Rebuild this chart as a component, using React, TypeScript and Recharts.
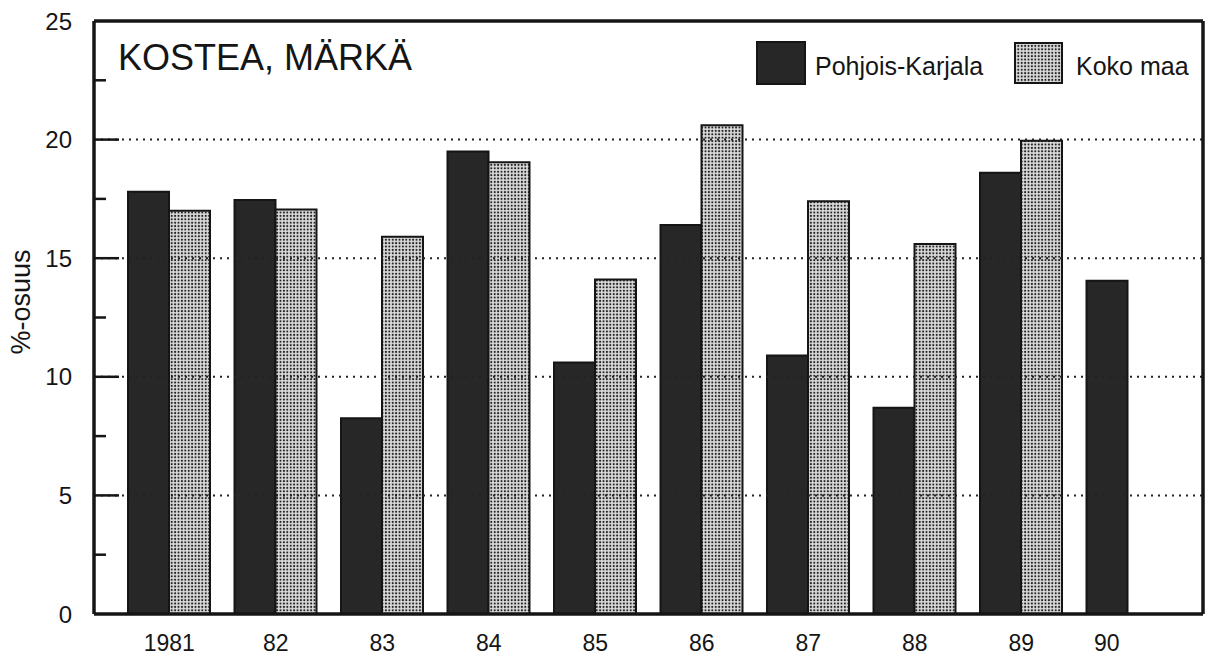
import { Bar, BarChart, Legend, ReferenceLine, XAxis, YAxis } from "recharts";

const years = ["1981", "82", "83", "84", "85", "86", "87", "88", "89", "90"];
const pohjoisKarjala = [17.8, 17.45, 8.25, 19.5, 10.6, 16.4, 10.9, 8.7, 18.6, 14.05];
const kokoMaa: (number | null)[] = [17.0, 17.05, 15.9, 19.05, 14.1, 20.6, 17.4, 15.6, 19.95, null];
const yTicks = [0, 2.5, 5, 7.5, 10, 12.5, 15, 17.5, 20, 22.5, 25];
const gridTicks = [5, 10, 15, 20];

const data = years.map((year, i) => ({
  year,
  pk: pohjoisKarjala[i],
  km: kokoMaa[i],
}));

const FONT = "'Liberation Sans', Arial, Helvetica, sans-serif";
const INK = "#151515";
const DARK = "#272727";
const Y_TICK_GAP = 22;

function DotPattern({ id }: { id: string }) {
  return (
    <pattern id={id} width="3.4" height="3.4" patternUnits="userSpaceOnUse">
      <rect width="3.4" height="3.4" fill="#dcdcdc" />
      <circle cx="1.7" cy="1.7" r="1.05" fill="#222" />
    </pattern>
  );
}

const YTick = (props: any) => {
  const { x, y, payload } = props;
  const v = payload.value as number;
  const major = v % 5 === 0;
  const ax = x + Y_TICK_GAP;
  return (
    <g>
      {v > 0 && v < 25 && (
        <line x1={ax} x2={ax + (major ? 25 : 12)} y1={y} y2={y} stroke={INK} strokeWidth={2.5} />
      )}
      {major && (
        <text x={x} y={y} dy={8.5} textAnchor="end" fontSize={24} fontFamily={FONT} fill={INK}>
          {v}
        </text>
      )}
    </g>
  );
};

const XTick = (props: any) => {
  const { x, y, payload, index } = props;
  // last group has only one bar: label sits under it
  const shift = kokoMaa[index] == null ? -21 : 0;
  return (
    <text x={x + shift} y={y} dy={37} textAnchor="middle" fontSize={23} fontFamily={FONT} fill={INK}>
      {payload.value}
    </text>
  );
};

const Header = () => (
  <svg width={1209} height={100} style={{ display: "block" }}>
    <defs>
      <DotPattern id="dotsLegend" />
    </defs>
    <text x={118} y={70} fontSize={36} fontFamily={FONT} fill={INK}>
      KOSTEA, MÄRKÄ
    </text>
    <rect x={757} y={42} width={48} height={42} fill={DARK} stroke={INK} strokeWidth={2} />
    <text x={815} y={75} fontSize={25} fontFamily={FONT} fill={INK}>
      Pohjois-Karjala
    </text>
    <rect x={1015} y={43} width={47} height={40} fill="url(#dotsLegend)" stroke={INK} strokeWidth={2} />
    <text x={1076} y={75} fontSize={25} fontFamily={FONT} fill={INK}>
      Koko maa
    </text>
  </svg>
);

const YLabel = () => (
  <text transform="translate(30,302) rotate(-90)" textAnchor="middle" fontSize={27} fontFamily={FONT} fill={INK}>
    %-osuus
  </text>
);

export default function App() {
  return (
    <div style={{ position: "absolute", left: 0, top: 0, background: "#fff" }}>
      <BarChart
        width={1209}
        height={666}
        data={data}
        margin={{ top: 20, right: 5, bottom: 0, left: 0 }}
        barCategoryGap={12}
        barGap={0}
      >
        <defs>
          <DotPattern id="dotsBar" />
        </defs>
        <XAxis
          dataKey="year"
          interval={0}
          padding={{ left: 22, right: 22 }}
          height={52}
          tickSize={0}
          tickMargin={0}
          tick={<XTick />}
          axisLine={{ stroke: INK, strokeWidth: 3.5 }}
        />
        <XAxis
          xAxisId="top"
          dataKey="year"
          orientation="top"
          height={1}
          tick={false}
          tickLine={false}
          axisLine={{ stroke: INK, strokeWidth: 3.5 }}
        />
        <YAxis
          domain={[0, 25]}
          ticks={yTicks}
          interval={0}
          width={94}
          tickSize={0}
          tickMargin={Y_TICK_GAP}
          tick={<YTick />}
          axisLine={{ stroke: INK, strokeWidth: 3.5 }}
          label={{ content: <YLabel /> }}
        />
        <YAxis
          yAxisId="frame"
          orientation="right"
          domain={[0, 25]}
          width={1}
          tick={false}
          tickLine={false}
          axisLine={{ stroke: INK, strokeWidth: 3.5 }}
        />
        {gridTicks.map((v) => (
          <ReferenceLine key={v} y={v} stroke="#222" strokeWidth={2} strokeDasharray="2 5" />
        ))}
        <Legend
          layout="vertical"
          align="center"
          verticalAlign="middle"
          wrapperStyle={{ position: "absolute", left: 0, top: 0, width: 1209, height: 100 }}
          content={() => <Header />}
        />
        <Bar dataKey="pk" name="Pohjois-Karjala" fill={DARK} stroke={INK} strokeWidth={2} isAnimationActive={false} />
        <Bar dataKey="km" name="Koko maa" fill="url(#dotsBar)" stroke={INK} strokeWidth={2} isAnimationActive={false} />
      </BarChart>
    </div>
  );
}
